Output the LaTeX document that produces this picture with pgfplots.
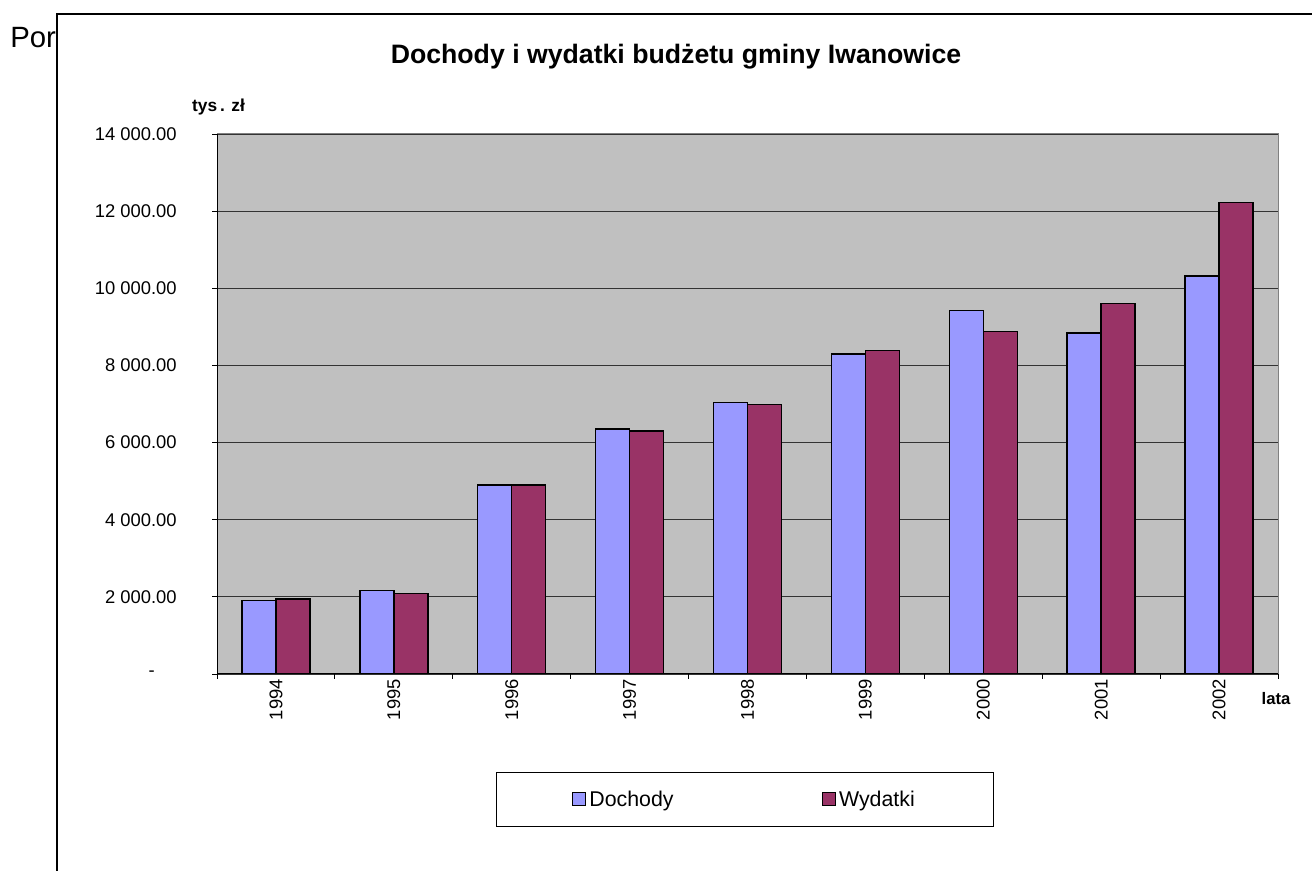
\documentclass[border=0pt]{standalone}
\usepackage{pgfplots}
\pgfplotsset{compat=1.18}
\usepackage{fontspec}
\setmainfont{Liberation Sans}
\definecolor{doch}{HTML}{9999FF}
\definecolor{wyd}{HTML}{993366}
\definecolor{plotbg}{HTML}{C0C0C0}
\begin{document}
\begin{tikzpicture}
\useasboundingbox (0,0) rectangle (984pt,652.5pt);
\begin{scope}
\clip (0,0) rectangle (984pt,652.5pt);
\begin{scope}[shift={(0pt,652.5pt)},x=0.75pt,y=-0.75pt]
\node[anchor=west,inner sep=0pt,font=\fontsize{22}{26}\selectfont] at (10,38) {Por};
\draw[line width=1.1pt,fill=white] (57,14) rectangle (1340,900);
\node[font=\fontsize{20}{24}\selectfont\bfseries] at (676,57) {Dochody i wydatki budżetu gminy Iwanowice};
\node[font=\fontsize{13}{15}\selectfont\bfseries] at (218.5,107) {tys\,. zł};
\node[font=\fontsize{12.5}{15}\selectfont\bfseries] at (1276,699) {lata};
\end{scope}
\end{scope}
\begin{axis}[
  at={(162.75pt,147pt)}, anchor=south west,
  scale only axis, width=795.75pt, height=405pt,
  ybar=0pt, bar width=25.5pt,
  xmin=-0.5, xmax=8.5, ymin=0, ymax=14000,
  scaled y ticks=false,
  axis background/.style={fill=plotbg},
  axis line style={draw=gray, line width=0.75pt},
  ymajorgrids, grid style={black!80, line width=0.7pt},
  tick align=outside,
  xtick pos=bottom, ytick pos=left,
  major tick length=3.75pt, minor tick length=3.75pt,
  ytick={0,2000,4000,6000,8000,10000,12000,14000},
  yticklabels={{\makebox[21pt][l]{-}},2 000.00,4 000.00,6 000.00,8 000.00,10 000.00,12 000.00,14 000.00},
  yticklabel style={font=\fontsize{13.8}{16}\selectfont, inner sep=0pt, xshift=-26.25pt},
  major y tick style={draw=black, line width=0.6pt},
  xtick={0,1,2,3,4,5,6,7,8},
  xticklabels={1994,1995,1996,1997,1998,1999,2000,2001,2002},
  minor xtick={-0.5,0.5,1.5,2.5,3.5,4.5,5.5,6.5,7.5,8.5},
  major x tick style={draw=none},
  minor x tick style={draw=black, line width=0.6pt},
  xticklabel style={font=\fontsize{13.8}{16}\selectfont, rotate=90, anchor=east, inner sep=0pt, yshift=0pt},
  legend columns=2,
  legend cell align=left,
  legend image code/.code={\draw[#1,draw=black,line width=0.9pt] (0pt,-4.5pt) rectangle (9.75pt,5.25pt);},
  legend style={at={(0.4976,-0.2324)}, anchor=center, draw=black, line width=0.75pt,
    font=\fontsize{16}{19}\selectfont, inner xsep=57pt, inner ysep=13.8pt,
    nodes={inner xsep=2.25pt, inner ysep=0pt},
    /tikz/every even column/.append style={column sep=109pt}},
]
\addplot[fill=doch, draw=black, line width=1.1pt] coordinates {(0,1901) (1,2171) (2,4895) (3,6347) (4,7038) (5,8301) (6,9425) (7,8838) (8,10324)};
\addplot[fill=wyd, draw=black, line width=1.1pt] coordinates {(0,1946) (1,2083) (2,4895) (3,6304) (4,6986) (5,8387) (6,8880) (7,9607) (8,12227)};
\legend{Dochody,Wydatki}
\draw[black, line width=0.75pt] (rel axis cs:0,1) -- (rel axis cs:0,0) -- (rel axis cs:1,0);
\end{axis}
\end{tikzpicture}
\end{document}
